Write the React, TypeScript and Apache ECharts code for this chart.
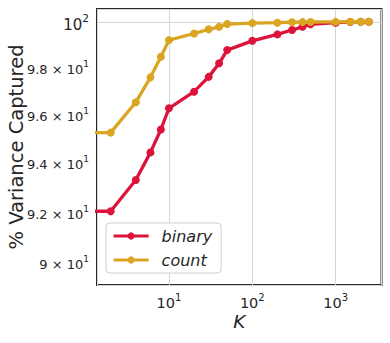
import React, { useEffect, useRef } from 'react';
import * as echarts from 'echarts';

const kValues = [1, 2, 4, 6, 8, 10, 20, 30, 40, 50, 100, 200, 300, 400, 500, 1000, 1500, 2000, 2500];
const binaryValues = [92.05, 92.05, 93.32, 94.45, 95.4, 96.29, 96.99, 97.62, 98.2, 98.77, 99.17, 99.45, 99.64, 99.78, 99.89, 99.96, 99.99, 100, 100];
const countValues = [95.27, 95.27, 96.54, 97.6, 98.48, 99.2, 99.49, 99.67, 99.78, 99.9, 99.94, 99.96, 99.98, 99.985, 99.99, 99.995, 100, 100, 100];
const yTickValues = [90, 92, 94, 96, 98, 100];
const xTickValues = [10, 100, 1000];
const seriesNames = ['binary', 'count'];
const seriesColors = ['#DC143C', '#DAA520'];

const FONT = '"DejaVu Sans", sans-serif';
const TXT = '#262626';

export default function App() {
  const ref = useRef<HTMLDivElement>(null);
  useEffect(() => {
    if (!ref.current) return;
    const chart = echarts.init(ref.current, null, { renderer: 'svg' });
    const mk = (ys: number[]) => kValues.map((k, i) => [k, ys[i]]);
    const option: any = {
      animation: false,
      textStyle: { fontFamily: FONT, color: TXT },
      grid: {
        left: 97, right: 8.5, top: 9, bottom: 58,
        outerBoundsMode: 'none', containLabel: false,
        show: true, borderColor: '#262626', borderWidth: 2, backgroundColor: 'transparent',
      },
      xAxis: {
        type: 'log', logBase: 10, min: 1.37, max: 3550,
        name: 'K', nameLocation: 'middle', nameGap: 27, nameMoveOverlap: false,
        nameTextStyle: { fontSize: 18.5, fontStyle: 'italic', color: TXT, fontFamily: FONT },
        axisLine: { show: false }, axisTick: { show: false },
        splitLine: { show: true, lineStyle: { color: '#d6d6d6', width: 1 } },
        axisLabel: {
          margin: 7,
          customValues: xTickValues,
          formatter: (v: number) => {
            const e = Math.round(Math.log10(v));
            return `{b|10}{s|${e}}`;
          },
          rich: {
            b: { fontSize: 14.5, color: TXT, fontFamily: FONT },
            s: { fontSize: 10, color: TXT, fontFamily: FONT, padding: [0, 0, 11, 0] },
          },
        },
      },
      yAxis: {
        type: 'log', logBase: 10, min: 89.13, max: 100.56,
        name: '% Variance Captured', nameLocation: 'middle', nameGap: 71, nameRotate: 90,
        nameMoveOverlap: false,
        nameTextStyle: { fontSize: 19.5, color: TXT, fontFamily: FONT },
        axisLine: { show: false }, axisTick: { show: false },
        splitLine: { show: true, lineStyle: { color: '#d6d6d6', width: 1 } },
        axisLabel: {
          margin: 8,
          customValues: yTickValues,
          formatter: (v: number) => {
            const r = Math.round(v);
            if (r === 100) return '{B|10}{S|2}';
            const m = r / 10;
            return `{b|${m} × 10}{s|1}`;
          },
          rich: {
            B: { fontSize: 15, color: TXT, fontFamily: FONT, padding: [6, 0, 0, 0] },
            S: { fontSize: 10.5, color: TXT, fontFamily: FONT, padding: [0, 0, 8, 0] },
            b: { fontSize: 13, color: TXT, fontFamily: FONT, padding: [3, 0, 0, 0] },
            s: { fontSize: 9, color: TXT, fontFamily: FONT, padding: [0, 0, 8, 0] },
          },
        },
      },
      legend: {
        orient: 'vertical', left: 106, top: 223,
        backgroundColor: '#ffffff', borderColor: '#d0d0d0', borderWidth: 1, borderRadius: 4,
        padding: [5, 9, 5, 6], itemGap: 8, itemWidth: 35, itemHeight: 9,
        textStyle: { fontSize: 16, fontStyle: 'italic', color: TXT, fontFamily: FONT, padding: [0, 0, 0, 8] },
        data: seriesNames.map((n, i) => ({ name: n, lineStyle: { width: 3.2, color: seriesColors[i] } })),
      },
      series: [
        {
          name: seriesNames[0], type: 'line', data: mk(binaryValues),
          color: seriesColors[0], symbol: 'circle', symbolSize: 8,
          lineStyle: { width: 3.3, color: seriesColors[0] }, itemStyle: { color: seriesColors[0] },
          clip: true, z: 2,
        },
        {
          name: seriesNames[1], type: 'line', data: mk(countValues),
          color: seriesColors[1], symbol: 'circle', symbolSize: 8,
          lineStyle: { width: 3.3, color: seriesColors[1] }, itemStyle: { color: seriesColors[1] },
          clip: true, z: 3,
        },
      ],
    };
    chart.setOption(option);
    return () => chart.dispose();
  }, []);
  return <div ref={ref} style={{ width: 390, height: 343, position: 'absolute', left: 0, top: 0 }} />;
}
